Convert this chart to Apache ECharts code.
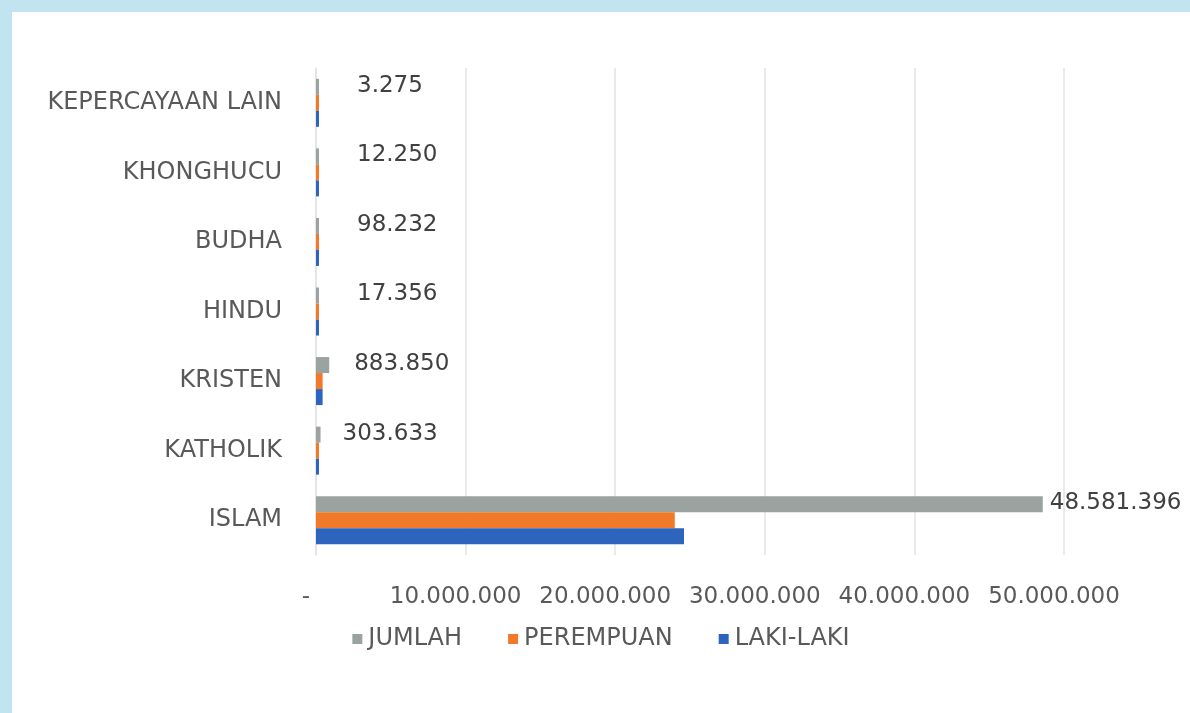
<!DOCTYPE html>
<html>
<head>
<meta charset="utf-8">
<script src="https://cdn.jsdelivr.net/npm/echarts@6/dist/echarts.min.js"></script>
<style>
  html, body { margin: 0; padding: 0; width: 1190px; height: 713px; overflow: hidden; background: #c2e4f1; }
  #chart { position: absolute; left: 12px; top: 12px; width: 1178px; height: 701px; background: #ffffff; }
</style>
</head>
<body>
<div id="chart"></div>
<script>
const categories = ['ISLAM', 'KATHOLIK', 'KRISTEN', 'HINDU', 'BUDHA', 'KHONGHUCU', 'KEPERCAYAAN LAIN'];
const lakiLaki = [24600000, 152000, 441000, 8700, 49000, 6100, 1640];
const perempuan = [23981396, 151633, 442850, 8656, 49232, 6150, 1635];
const jumlah = [48581396, 303633, 883850, 17356, 98232, 12250, 3275];
const xTicks = [0, 10000000, 20000000, 30000000, 40000000, 50000000];
const labelGap = [7, 22, 25, 38, 38, 38, 38];

function fmt(v) {
  if (v === 0) return '-';
  return String(Math.round(v)).replace(/\B(?=(\d{3})+(?!\d))/g, '.');
}

const FONT = 'DejaVu Sans';
const chart = echarts.init(document.getElementById('chart'), null, { renderer: 'canvas' });

const option = {
  animation: false,
  textStyle: { fontFamily: FONT },
  grid: { left: 304, right: 126, top: 56, bottom: 158, containLabel: false },
  legend: {
    data: ['JUMLAH', 'PEREMPUAN', 'LAKI-LAKI'],
    top: 610,
    left: 'center',
    itemWidth: 10,
    itemHeight: 10,
    itemGap: 46,
    icon: 'rect',
    textStyle: { fontFamily: FONT, fontSize: 24, color: '#595959', padding: [0, 0, 0, 1] }
  },
  xAxis: {
    type: 'value',
    min: xTicks[0],
    max: xTicks[xTicks.length - 1],
    interval: xTicks[1] - xTicks[0],
    axisLine: { show: false },
    axisTick: { show: false },
    splitLine: { show: true, lineStyle: { color: '#e3e3e3', width: 1.5 } },
    axisLabel: { formatter: fmt, fontFamily: FONT, fontSize: 23, color: '#595959', margin: 31, padding: [0, 20, 0, 0] }
  },
  yAxis: {
    type: 'category',
    data: categories,
    axisLine: { show: true, lineStyle: { color: '#e3e3e3', width: 1.5 } },
    axisTick: { show: false },
    axisLabel: { fontFamily: FONT, fontSize: 24, color: '#595959', margin: 34 }
  },
  series: [
    {
      name: 'JUMLAH', type: 'bar',
      data: jumlah.map((v, i) => ({ value: v, label: { distance: labelGap[i] } })),
      itemStyle: { color: '#9aa3a0' }, barGap: '0%', barCategoryGap: '31%', barMinHeight: 3,
      label: {
        show: true, position: 'right', formatter: p => fmt(p.value),
        fontFamily: FONT, fontSize: 23, color: '#404040', offset: [0, -1]
      }
    },
    {
      name: 'PEREMPUAN', type: 'bar', data: perempuan,
      itemStyle: { color: '#f07a2a' }, barGap: '0%', barCategoryGap: '31%', barMinHeight: 3
    },
    {
      name: 'LAKI-LAKI', type: 'bar', data: lakiLaki,
      itemStyle: { color: '#2d64bd' }, barGap: '0%', barCategoryGap: '31%', barMinHeight: 3
    }
  ]
};
chart.setOption(option);
</script>
</body>
</html>
